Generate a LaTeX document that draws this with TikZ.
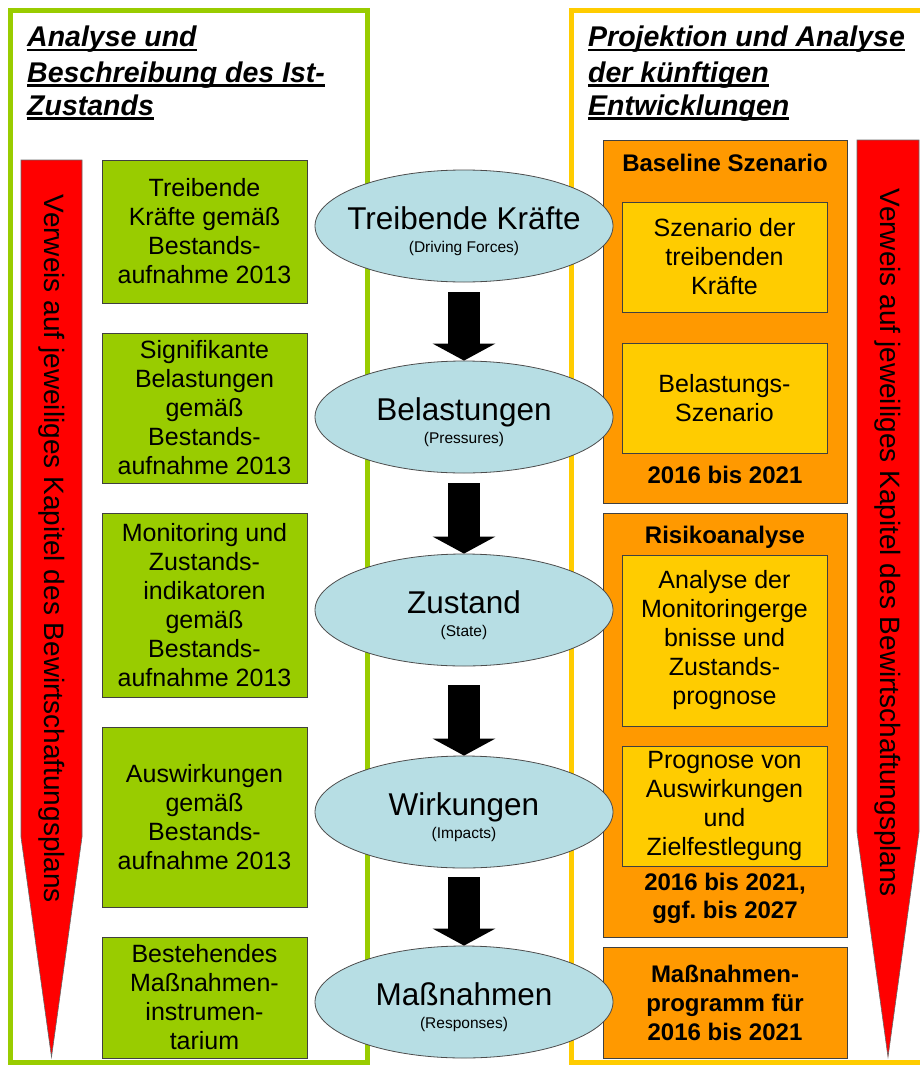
\documentclass[tikz,border=0pt]{standalone}
\usepackage{fontspec}
\setmainfont{Liberation Sans}
\usepackage{tikz}
\usetikzlibrary{shapes.geometric, arrows.meta, positioning}
\definecolor{framegreen}{RGB}{153, 204, 0}
\definecolor{framegold}{RGB}{255, 204, 0}
\definecolor{boxorange}{RGB}{255, 153, 0}
\definecolor{boxgold}{RGB}{255, 204, 0}
\definecolor{phaseblue}{RGB}{183, 222, 228}
\definecolor{signalred}{RGB}{255, 0, 0}
\newcommand{\hdul}[1]{\setbox0\hbox{#1}\rlap{\rule[-4.5pt]{\wd0}{2.5pt}}\box0}
\frenchspacing

\begin{document}
\begin{tikzpicture}[x=1pt, y=-1pt,
  greenbox/.style={draw=black!75, line width=0.8pt, fill=framegreen, minimum width=205pt,
    inner sep=0pt, align=center, font=\fontsize{25}{29}\selectfont},
  goldbox/.style={greenbox, fill=boxgold},
  orangebox/.style={draw=black!75, line width=0.8pt, fill=boxorange, minimum width=244pt, inner sep=0pt},
  otitle/.style={inner sep=0pt, align=center, font=\bfseries\fontsize{24}{28}\selectfont},
  phase/.style={ellipse, draw=black!70, line width=0.8pt, fill=phaseblue,
    minimum width=298pt, minimum height=112pt, inner sep=0pt},
  phasetxt/.style={inner sep=0pt, align=center, font=\fontsize{31.5}{23}\selectfont},
  blockarrow/.style={line width=32pt, -{Triangle[width=62pt, length=17pt]}},
  headtxt/.style={inner sep=0pt, anchor=base west, font=\bfseries\itshape\fontsize{28.5}{34}\selectfont},
  vtxt/.style={rotate=-90, inner sep=0pt, font=\fontsize{28}{30}\selectfont}]
  \useasboundingbox (0,0) rectangle (919,1065);

  % Frames
  \draw[framegreen, line width=5pt] (10.5,10.5) rectangle (367.5,1062.5);
  \draw[framegold, line width=5pt] (925,10.5) -- (571.5,10.5) -- (571.5,1062.5) -- (925,1062.5);

  % Headings
  \foreach \y/\txt in {47/Analyse und, 82/Beschreibung des Ist-, 115/Zustands} {
    \node[headtxt] (hl\y) at (27,\y) {\hdul{\txt}};
  }
  \foreach \y/\txt in {47/Projektion und Analyse, 82/der künftigen, 115/Entwicklungen} {
    \node[headtxt] (hr\y) at (588,\y) {\hdul{\txt}};
  }

  % Red arrows
  \filldraw[signalred, draw=black!60, line width=0.6pt]
    (21,160) -- (82,160) -- (82,837) -- (51.5,1057) -- (21,837) -- cycle;
  \node[vtxt] (refl) at (51.5,549) {Verweis auf jeweiliges Kapitel des Bewirtschaftungsplans};
  \filldraw[signalred, draw=black!60, line width=0.6pt]
    (857,140) -- (919,140) -- (919,832) -- (888,1057) -- (857,832) -- cycle;
  \node[vtxt] (refr) at (888,543) {Verweis auf jeweiliges Kapitel des Bewirtschaftungsplans};

  % Current state
  \node[greenbox, minimum height=143pt] (g1) at (204.5,231.5) {Treibende\\Kräfte gemäß\\Bestands-\\aufnahme 2013};
  \node[greenbox, minimum height=150pt] (g2) at (204.5,408) {Signifikante\\Belastungen\\gemäß\\Bestands-\\aufnahme 2013};
  \node[greenbox, minimum height=184pt] (g3) at (204.5,605) {Monitoring und\\Zustands-\\indikatoren\\gemäß\\Bestands-\\aufnahme 2013};
  \node[greenbox, minimum height=180pt] (g4) at (204.5,817) {Auswirkungen\\gemäß\\Bestands-\\aufnahme 2013};
  \node[greenbox, minimum height=121pt] (g5) at (204.5,997.5) {Bestehendes\\Maßnahmen-\\instrumen-\\tarium};

  % Baseline scenario
  \node[orangebox, minimum height=363pt] (ob1) at (725,321.5) {};
  \node[otitle] (ob1-t) at (725,163) {Baseline Szenario};
  \node[goldbox, minimum height=110pt] (ya) at (724.5,257) {Szenario der\\treibenden\\Kräfte};
  \node[goldbox, minimum height=110pt] (yb) at (724.5,398) {Belastungs-\\Szenario};
  \node[otitle] (ob1-y) at (725,475) {2016 bis 2021};

  % Risk analysis
  \node[orangebox, minimum height=424pt] (ob2) at (725,725) {};
  \node[otitle] (ob2-t) at (725,537) {Risikoanalyse};
  \node[goldbox, minimum height=171pt] (yc) at (724.5,640.5) {Analyse der\\Monitoringerge\\bnisse und\\Zustands-\\prognose};
  \node[goldbox, minimum height=120pt] (yd) at (724.5,806) {Prognose von\\Auswirkungen\\und\\Zielfestlegung};
  \node[otitle] (ob2-y) at (725,898) {2016 bis 2021,\\ggf. bis 2027};

  % Programme of measures
  \node[orangebox, minimum height=111pt, otitle, font=\bfseries\fontsize{24}{29}\selectfont] (ob3) at (725,1002.5)
    {Maßnahmen-\\programm für\\2016 bis 2021};

  % DPSIR chain
  \foreach \n/\y/\main/\sub in {e1/226/Treibende Kräfte/Driving Forces, e2/417/Belastungen/Pressures,
      e3/610/Zustand/State, e4/812/Wirkungen/Impacts, e5/1002/Maßnahmen/Responses} {
    \node[phase] (\n) at (464,\y) {};
    \node[phasetxt] (\n-t) at ([yshift=-5pt]\n.center) {\main\\{\fontsize{15.5}{23}\selectfont(\sub)}};
  }
  \foreach \a/\b/\g in {e1/e2/10, e2/e3/10, e3/e4/19, e4/e5/9} {
    \draw[blockarrow] ([yshift=-\g pt]\a.south) -- (\b.north);
  }
\end{tikzpicture}
\end{document}
